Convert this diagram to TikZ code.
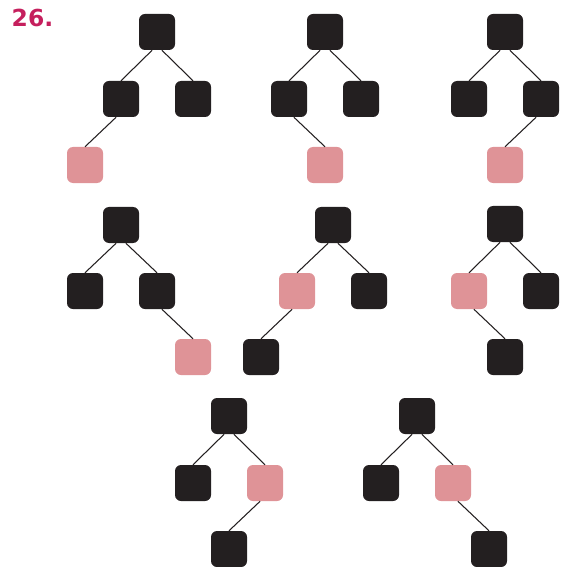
\documentclass[tikz,border=0pt]{standalone}
\usepackage{fontspec}
\setmainfont{DejaVu Sans}
\definecolor{inkblack}{HTML}{231F20}
\definecolor{keypink}{HTML}{DF9397}
\definecolor{numred}{HTML}{C51F5D}

\begin{document}
\begin{tikzpicture}[
  x=0.03cm,
  y=-0.03cm,
  key/.style={rectangle,rounded corners=0.18cm,inner sep=0pt,
              minimum width=1.08cm,minimum height=1.08cm,fill=inkblack},
  newkey/.style={key,fill=keypink},
  edge/.style={draw=inkblack,line width=0.9pt}
]
\useasboundingbox (0,0) rectangle (562,567);

% =====================================================================
% exercise number
% =====================================================================
\node[anchor=base west,inner sep=0pt,text=numred,
      font=\fontsize{20}{24}\selectfont\bfseries] (num) at (11.5,27) {26.};

% =====================================================================
% Row 1
% =====================================================================
\node[key]    (a0) at (157,32) {};
\node[key]    (a1) at (121,99) {};
\node[key]    (a2) at (193,99) {};
\node[newkey] (a3) at (85,165) {};
\draw[edge] (a0.255) -- (a1.north);
\draw[edge] (a0.285) -- (a2.north);
\draw[edge] (a1.255) -- (a3.north);

\node[key]    (b0) at (325,32) {};
\node[key]    (b1) at (289,99) {};
\node[key]    (b2) at (361,99) {};
\node[newkey] (b3) at (325,165) {};
\draw[edge] (b0.255) -- (b1.north);
\draw[edge] (b0.285) -- (b2.north);
\draw[edge] (b1.285) -- (b3.north);

\node[key]    (c0) at (505,32) {};
\node[key]    (c1) at (469,99) {};
\node[key]    (c2) at (541,99) {};
\node[newkey] (c3) at (505,165) {};
\draw[edge] (c0.255) -- (c1.north);
\draw[edge] (c0.285) -- (c2.north);
\draw[edge] (c2.255) -- (c3.north);

% =====================================================================
% Row 2
% =====================================================================
\node[key]    (d0) at (121,225) {};
\node[key]    (d1) at (85,291) {};
\node[key]    (d2) at (157,291) {};
\node[newkey] (d3) at (193,357) {};
\draw[edge] (d0.255) -- (d1.north);
\draw[edge] (d0.285) -- (d2.north);
\draw[edge] (d2.285) -- (d3.north);

\node[key]    (e0) at (333,225) {};
\node[newkey] (e1) at (297,291) {};
\node[key]    (e2) at (369,291) {};
\node[key]    (e3) at (261,357) {};
\draw[edge] (e0.255) -- (e1.north);
\draw[edge] (e0.285) -- (e2.north);
\draw[edge] (e1.255) -- (e3.north);

\node[key]    (f0) at (505,224) {};
\node[newkey] (f1) at (469,291) {};
\node[key]    (f2) at (541,291) {};
\node[key]    (f3) at (505,357) {};
\draw[edge] (f0.255) -- (f1.north);
\draw[edge] (f0.285) -- (f2.north);
\draw[edge] (f1.285) -- (f3.north);

% =====================================================================
% Row 3
% =====================================================================
\node[key]    (g0) at (229,416) {};
\node[key]    (g1) at (193,483) {};
\node[newkey] (g2) at (265,483) {};
\node[key]    (g3) at (229,549) {};
\draw[edge] (g0.255) -- (g1.north);
\draw[edge] (g0.285) -- (g2.north);
\draw[edge] (g2.255) -- (g3.north);

\node[key]    (h0) at (417,416) {};
\node[key]    (h1) at (381,483) {};
\node[newkey] (h2) at (453,483) {};
\node[key]    (h3) at (489,549) {};
\draw[edge] (h0.255) -- (h1.north);
\draw[edge] (h0.285) -- (h2.north);
\draw[edge] (h2.285) -- (h3.north);

\end{tikzpicture}
\end{document}
